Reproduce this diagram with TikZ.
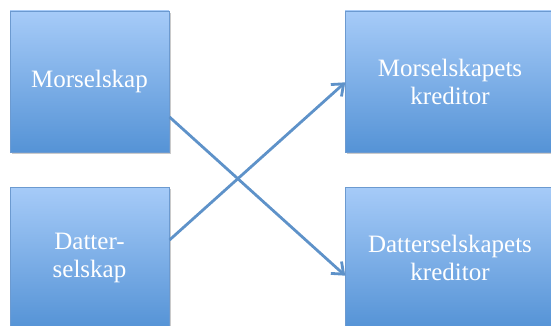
\documentclass[tikz,border=0pt]{standalone}
\usepackage{fontspec}
\setmainfont{Liberation Serif}
\usetikzlibrary{arrows.meta,shadows}
\definecolor{boxtop}{HTML}{A6CBF8}
\definecolor{boxbot}{HTML}{5593D6}
\definecolor{boxline}{HTML}{6C9AD0}
\definecolor{arrowc}{HTML}{5E92C9}
\tikzset{
  box/.style={draw=boxline, line width=0.8pt, top color=boxtop, bottom color=boxbot,
    minimum width=#1, minimum height=141pt, inner sep=0pt, text=white, align=center,
    font=\fontsize{25}{28}\selectfont,
    drop shadow={shadow xshift=1.5pt, shadow yshift=-2pt, opacity=0.35, fill=black!60}},
  link/.style={draw=arrowc, line width=2.8pt, -{Straight Barb[length=10pt,width=16pt,line width=2.8pt]}, shorten >=-1pt}
}
\begin{document}
\begin{tikzpicture}[x=1pt,y=1pt]
\useasboundingbox (0,0) rectangle (551,-326);
\node[box=159pt] (mor) at (89.5,-81.5) {Morselskap};
\node[box=210pt] (mork) at (450,-81.5) {Morselskapets\\kreditor};
\node[box=159pt] (dat) at (89.5,-257.5) {Datter-\\selskap};
\node[box=210pt] (datk) at (450,-257.5) {Datterselskapets\\kreditor};
\coordinate (a1) at (169.5,-117);
\coordinate (a2) at (344.5,-275);
\coordinate (b1) at (169.5,-240);
\coordinate (b2) at (344.5,-83);
\draw[link] (a1) -- (a2);
\draw[link] (b1) -- (b2);
\end{tikzpicture}
\end{document}
